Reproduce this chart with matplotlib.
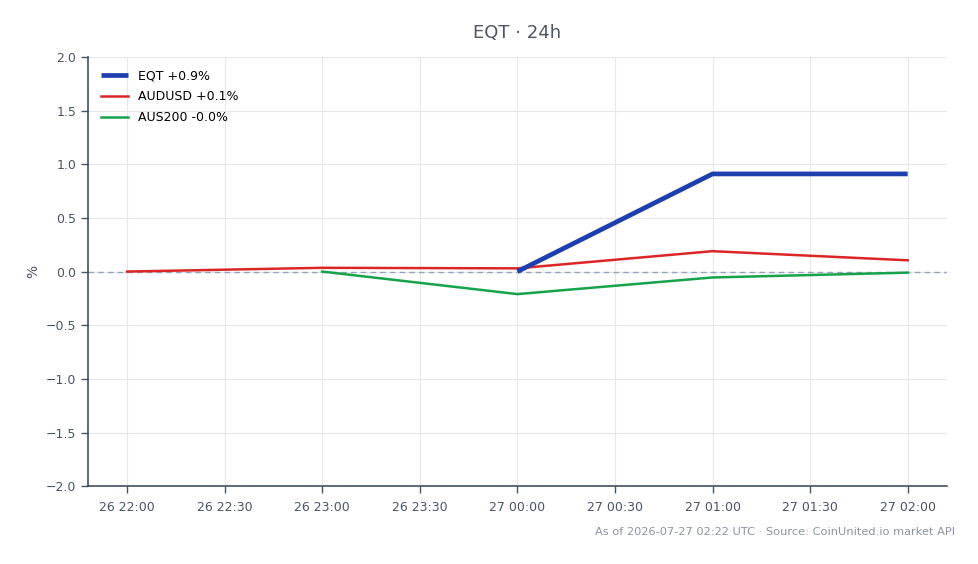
import numpy as np
import pandas as pd
import matplotlib
matplotlib.use("Agg")
import matplotlib.pyplot as plt
import matplotlib.dates as mdates

# ----- data -----
eqt_times = ["2026-07-27 00:00", "2026-07-27 01:00", "2026-07-27 02:00"]
eqt_vals = [0.0, 0.91, 0.91]

aud_times = ["2026-07-26 22:00", "2026-07-26 23:00", "2026-07-27 00:00",
             "2026-07-27 01:00", "2026-07-27 02:00"]
aud_vals = [0.0, 0.035, 0.03, 0.19, 0.105]

asx_times = ["2026-07-26 23:00", "2026-07-27 00:00", "2026-07-27 01:00",
             "2026-07-27 02:00"]
asx_vals = [0.0, -0.21, -0.055, -0.01]

labels = ["EQT +0.9%", "AUDUSD +0.1%", "AUS200 -0.0%"]

text_col = "#475569"
spine_col = "#334155"

fig, ax = plt.subplots(figsize=(9.79, 5.64), dpi=100)
fig.subplots_adjust(left=0.0899, right=0.967, top=0.899, bottom=0.138)

ax.plot(pd.to_datetime(eqt_times), eqt_vals, color="#1e40af", lw=3.4,
        label=labels[0], solid_capstyle="butt", zorder=4)
ax.plot(pd.to_datetime(aud_times), aud_vals, color="#dc2626", lw=1.8,
        label=labels[1], zorder=3)
ax.plot(pd.to_datetime(asx_times), asx_vals, color="#16a34a", lw=1.8,
        label=labels[2], zorder=3)

ax.axhline(0, color="#94a3b8", lw=1, ls=(0, (4, 3)), zorder=2)

ax.set_ylim(-2.0, 2.0)
ax.set_yticks(np.arange(-2.0, 2.01, 0.5))
ax.xaxis.set_major_locator(mdates.MinuteLocator(byminute=[0, 30]))
ax.xaxis.set_major_formatter(mdates.DateFormatter("%d %H:%M"))

ax.grid(True, color="#e5e7eb", lw=0.8)
ax.set_axisbelow(True)
for s in ["top", "right"]:
    ax.spines[s].set_visible(False)
for s in ["left", "bottom"]:
    ax.spines[s].set_color(spine_col)
    ax.spines[s].set_linewidth(1.1)
ax.tick_params(colors=text_col, labelsize=9, length=5, width=1,
               direction="out")
ax.tick_params(axis="x", pad=6)

ax.set_ylabel("%", color=text_col, fontsize=10, labelpad=4)
ax.set_title("EQT · 24h", color="#4b5563", fontsize=13, pad=14)

leg = ax.legend(loc="upper left", frameon=False, fontsize=9,
                handlelength=2.2, labelspacing=0.62, borderaxespad=0.6)

fig.text(0.976, 0.048, "As of 2026-07-27 02:22 UTC · Source: CoinUnited.io market API",
         ha="right", va="bottom", fontsize=8.2, color="#8a94a6")

fig.savefig("out.png", dpi=100)
